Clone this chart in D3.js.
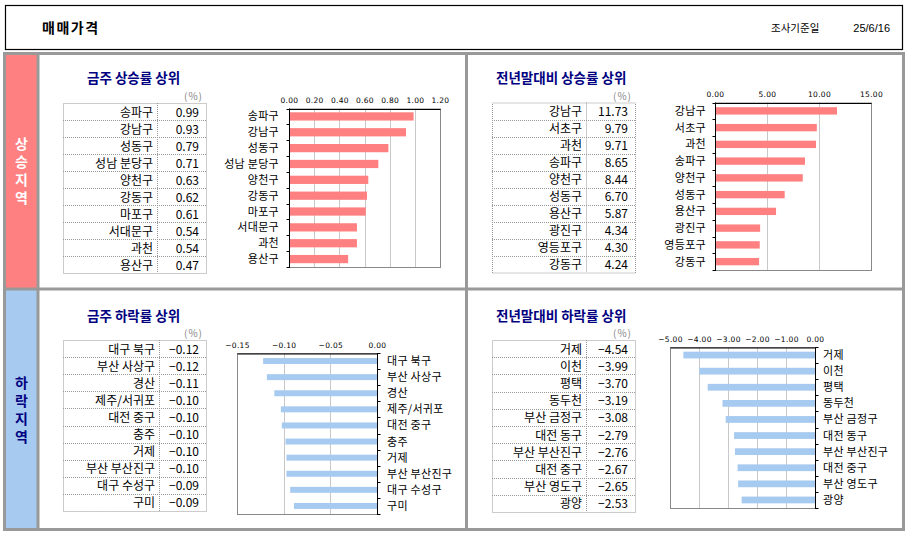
<!DOCTYPE html>
<html>
<head>
<meta charset="utf-8">
<script src="https://cdn.jsdelivr.net/npm/d3@7"></script>
<style>
  html, body { margin: 0; padding: 0; background: #fff; }
  svg { display: block; font-family: "Noto Sans CJK KR", "Noto Sans", sans-serif; }
  .tick-label { font-family: "DejaVu Sans", sans-serif; font-size: 7.5px; fill: #000; letter-spacing: 0.3px; }
  .side-label { writing-mode: vertical-rl; text-orientation: upright; }
</style>
</head>
<body>
<svg id="chart" width="905" height="537"></svg>
<script>
// ── Data ──
const weekUpNames  = ["송파구","강남구","성동구","성남 분당구","양천구","강동구","마포구","서대문구","과천","용산구"];
const weekUpValues = [0.99, 0.93, 0.79, 0.71, 0.63, 0.62, 0.61, 0.54, 0.54, 0.47];

const yearUpNames  = ["강남구","서초구","과천","송파구","양천구","성동구","용산구","광진구","영등포구","강동구"];
const yearUpValues = [11.73, 9.79, 9.71, 8.65, 8.44, 6.70, 5.87, 4.34, 4.30, 4.24];

const weekDownNames  = ["대구 북구","부산 사상구","경산","제주/서귀포","대전 중구","충주","거제","부산 부산진구","대구 수성구","구미"];
const weekDownValues = [-0.122, -0.118, -0.110, -0.103, -0.102, -0.098, -0.097, -0.097, -0.093, -0.089];

const yearDownNames  = ["거제","이천","평택","동두천","부산 금정구","대전 동구","부산 부산진구","대전 중구","부산 영도구","광양"];
const yearDownValues = [-4.54, -3.99, -3.70, -3.19, -3.08, -2.79, -2.76, -2.67, -2.65, -2.53];

const weekUpTicks   = [0, 0.2, 0.4, 0.6, 0.8, 1.0, 1.2];
const yearUpTicks   = [0, 5, 10, 15];
const weekDownTicks = [-0.15, -0.10, -0.05, 0];
const yearDownTicks = [-5, -4, -3, -2, -1, 0];

const pageTitle = "매매가격";
const dateLabel = "조사기준일";
const dateValue = "25/6/16";
const upLabel   = "상승지역";
const downLabel = "하락지역";

const PINK = "#ff8080", BLUE = "#a6caf0", NAVY = "#000080", GRAY = "#999999";
const fmt = d3.format(".2f");

const svg = d3.select("#chart");

// ── Header ──
svg.append("rect").attr("x", 5.5).attr("y", 5.5).attr("width", 897).attr("height", 44)
  .attr("fill", "#fff").attr("stroke", "#000").attr("stroke-width", 1.2);
svg.append("text").attr("x", 42).attr("y", 33).attr("font-size", 14).attr("font-weight", "bold")
  .attr("letter-spacing", 1.5).text(pageTitle);
svg.append("text").attr("x", 771).attr("y", 32).attr("font-size", 10.5).text(dateLabel);
svg.append("text").attr("x", 890).attr("y", 32).attr("font-size", 11).attr("text-anchor", "end")
  .attr("font-family", "Liberation Sans, sans-serif").text(dateValue);

// ── Sidebar ──
svg.append("rect").attr("x", 5).attr("y", 54).attr("width", 33).attr("height", 235).attr("fill", PINK);
svg.append("rect").attr("x", 5).attr("y", 289).attr("width", 33).attr("height", 240).attr("fill", BLUE);

function sideText(label, cy, color) {
  svg.append("text").attr("class", "side-label")
    .attr("x", 21.5).attr("y", cy)
    .attr("text-anchor", "middle")
    .attr("font-size", 14).attr("font-weight", "bold")
    .attr("letter-spacing", 4)
    .attr("fill", color)
    .text(label);
}
sideText(upLabel, 173, "#fff");
sideText(downLabel, 412, NAVY);

// ── Frame lines ──
svg.append("rect").attr("x", 4.5).attr("y", 53.5).attr("width", 899).attr("height", 476)
  .attr("fill", "none").attr("stroke", GRAY).attr("stroke-width", 3);
svg.append("line").attr("x1", 38).attr("x2", 38).attr("y1", 53).attr("y2", 530)
  .attr("stroke", GRAY).attr("stroke-width", 3);
svg.append("line").attr("x1", 466.5).attr("x2", 466.5).attr("y1", 53).attr("y2", 530)
  .attr("stroke", GRAY).attr("stroke-width", 3);
svg.append("line").attr("x1", 3).attr("x2", 905).attr("y1", 289).attr("y2", 289)
  .attr("stroke", GRAY).attr("stroke-width", 3);

// ── Panels ──
const panels = [
  { title: "금주 상승률 상위", tx: 87, ty: 83, pctX: 203, pctY: 100,
    names: weekUpNames, values: weekUpValues, ticks: weekUpTicks, domain: [0, 1.2],
    table: { x0: 63, x1: 157, x2: 206, y0: 103, rowH: 17 },
    plot: { left: 289, right: 440, top: 108.5, bottom: 267 }, pad: 0.48, color: PINK, side: "left", labelX: 279 },
  { title: "전년말대비 상승률 상위", tx: 496, ty: 83, pctX: 632, pctY: 100,
    names: yearUpNames, values: yearUpValues, ticks: yearUpTicks, domain: [0, 15],
    table: { x0: 492, x1: 586, x2: 635, y0: 102.5, rowH: 17 },
    plot: { left: 715, right: 871, top: 102.5, bottom: 270 }, pad: 0.56, color: PINK, side: "left", labelX: 706 },
  { title: "금주 하락률 상위", tx: 87, ty: 321, pctX: 203, pctY: 337,
    names: weekDownNames, values: weekDownValues, ticks: weekDownTicks, domain: [-0.15, 0],
    table: { x0: 63, x1: 159, x2: 206, y0: 340, rowH: 17.1 },
    plot: { left: 237, right: 377, top: 353, bottom: 514 }, pad: 0.63, color: BLUE, side: "right", labelX: 387 },
  { title: "전년말대비 하락률 상위", tx: 496, ty: 321, pctX: 632, pctY: 337,
    names: yearDownNames, values: yearDownValues, ticks: yearDownTicks, domain: [-5, 0],
    table: { x0: 492, x1: 586, x2: 635, y0: 340, rowH: 17.2 },
    plot: { left: 670, right: 815, top: 347, bottom: 508 }, pad: 0.58, color: BLUE, side: "right", labelX: 823 }
];

panels.forEach(drawPanel);

function drawPanel(p) {
  const g = svg.append("g");

  // title + unit
  g.append("text").attr("x", p.tx).attr("y", p.ty).attr("font-size", 13.5).attr("font-weight", "bold")
    .attr("fill", NAVY).text(p.title);
  g.append("text").attr("x", p.pctX).attr("y", p.pctY).attr("text-anchor", "end")
    .attr("font-size", 10).attr("fill", "#888").attr("letter-spacing", 1).text("(%)");

  // ── Table ──
  const t = p.table;
  const n = p.names.length;
  const tb = g.append("g").attr("stroke", "#999").attr("stroke-dasharray", "1,1").attr("fill", "none");
  tb.append("rect").attr("x", t.x0 + 0.5).attr("y", t.y0 + 0.5)
    .attr("width", t.x2 - t.x0).attr("height", t.rowH * n);
  tb.append("line").attr("x1", t.x1 + 0.5).attr("x2", t.x1 + 0.5)
    .attr("y1", t.y0).attr("y2", t.y0 + t.rowH * n);
  tb.selectAll("line.row").data(d3.range(1, n)).join("line").attr("class", "row")
    .attr("x1", t.x0).attr("x2", t.x2)
    .attr("y1", i => Math.round(t.y0 + i * t.rowH) + 0.5)
    .attr("y2", i => Math.round(t.y0 + i * t.rowH) + 0.5);

  g.selectAll("text.tname").data(p.names).join("text").attr("class", "tname")
    .attr("x", t.x1 - 4).attr("y", (d, i) => t.y0 + i * t.rowH + 13.5)
    .attr("text-anchor", "end").attr("font-size", 12).text(d => d);
  g.selectAll("text.tval").data(p.values).join("text").attr("class", "tval")
    .attr("x", t.x2 - 7).attr("y", (d, i) => t.y0 + i * t.rowH + 13.5)
    .attr("text-anchor", "end").attr("font-size", 12).text(d => fmt(d));

  // ── Bar chart ──
  const pl = p.plot;
  const x = d3.scaleLinear().domain(p.domain).range([pl.left, pl.right]);
  const y = d3.scaleBand().domain(p.names).range([pl.top, pl.bottom])
    .paddingInner(p.pad).paddingOuter(p.pad / 2);
  const step = (pl.bottom - pl.top) / n;

  // gridlines
  g.selectAll("line.grid").data(p.ticks.slice(1, -1)).join("line").attr("class", "grid")
    .attr("x1", d => Math.round(x(d)) + 0.5).attr("x2", d => Math.round(x(d)) + 0.5)
    .attr("y1", pl.top).attr("y2", pl.bottom)
    .attr("stroke", "#c8c8c8");

  // bars
  g.selectAll("rect.bar").data(p.values).join("rect").attr("class", "bar")
    .attr("x", d => x(Math.min(0, d)))
    .attr("width", d => Math.abs(x(d) - x(0)))
    .attr("y", (d, i) => y(p.names[i]))
    .attr("height", y.bandwidth())
    .attr("fill", p.color);

  // plot frame
  g.append("rect").attr("x", pl.left + 0.5).attr("y", pl.top + 0.5)
    .attr("width", pl.right - pl.left).attr("height", pl.bottom - pl.top)
    .attr("fill", "none").attr("stroke", "#888");

  // value axis on top
  const top = d3.axisTop(x).tickValues(p.ticks).tickFormat(fmt).tickSize(0).tickPadding(6);
  const ax = g.append("g").attr("transform", `translate(0,${pl.top + 0.5})`).call(top);
  ax.select(".domain").attr("stroke", "#000");
  ax.selectAll("text").attr("class", "tick-label").attr("font-size", null).attr("font-family", null);

  // category axis
  const axisX = p.side === "left" ? pl.left + 0.5 : pl.right + 0.5;
  g.append("line").attr("x1", axisX).attr("x2", axisX).attr("y1", pl.top).attr("y2", pl.bottom + 1)
    .attr("stroke", "#000");
  const dir = p.side === "left" ? -1 : 1;
  g.selectAll("line.ctick").data(d3.range(0, n + 1)).join("line").attr("class", "ctick")
    .attr("x1", axisX).attr("x2", axisX + dir * 3)
    .attr("y1", i => Math.round(pl.top + i * step) + 0.5)
    .attr("y2", i => Math.round(pl.top + i * step) + 0.5)
    .attr("stroke", "#000");

  g.selectAll("text.cat").data(p.names).join("text").attr("class", "cat")
    .attr("x", p.labelX)
    .attr("y", d => y(d) + y.bandwidth() / 2 + 4)
    .attr("text-anchor", p.side === "left" ? "end" : "start")
    .attr("font-size", 11).attr("letter-spacing", 0.3)
    .text(d => d);
}
</script>
</body>
</html>
